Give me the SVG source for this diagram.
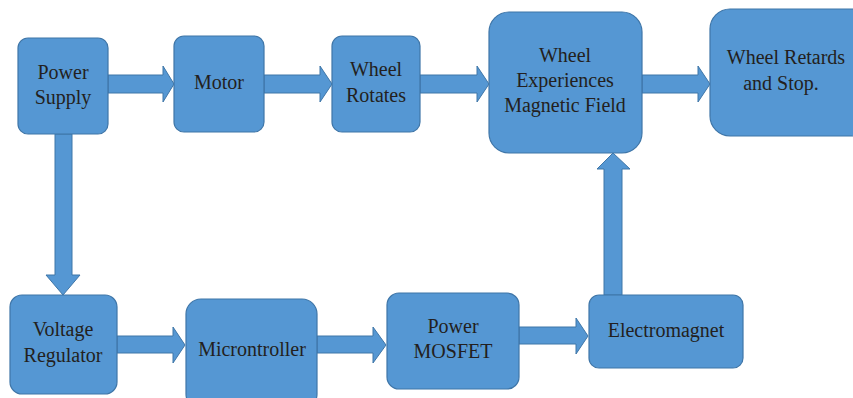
<svg xmlns="http://www.w3.org/2000/svg" width="853" height="398" viewBox="0 0 853 398">
<style>
.box{fill:#5597d3;stroke:#3f76a8;stroke-width:1.2}
.arr{fill:#5597d3;stroke:#3f76a8;stroke-width:1}
text{font-family:"Liberation Serif","Times New Roman",serif;font-size:20px;fill:#231f20;text-anchor:middle}
</style>
<rect width="853" height="398" fill="#fff"/>
<g id="connectors">
<polygon class="arr" points="108,75 163,75 163,66 174,84 163,102 163,93 108,93"/>
<polygon class="arr" points="264,75 320,75 320,66 332,84 320,102 320,93 264,93"/>
<polygon class="arr" points="420,75 477,75 477,66 489,84 477,102 477,93 420,93"/>
<polygon class="arr" points="642,75 698,75 698,66 710,84 698,102 698,93 642,93"/>
<polygon class="arr" points="55,134 72,134 72,275 80,275 63,295 46,275 55,275"/>
<polygon class="arr" points="117,336 173,336 173,327 185,345 173,363 173,353 117,353"/>
<polygon class="arr" points="317,336 373,336 373,327 386,345 373,363 373,353 317,353"/>
<polygon class="arr" points="519,327 576,327 576,318 588,336 576,354 576,344 519,344"/>
<polygon class="arr" points="604,295 604,169 597,169 613,153 630,169 622,169 622,295"/>
</g>
<g id="power-supply">
<rect class="box" x="18" y="38" width="90" height="96" rx="10"/>
<text x="63" y="79">Power</text>
<text x="63" y="104">Supply</text>
</g>
<g id="motor">
<rect class="box" x="174" y="36" width="90" height="96" rx="10"/>
<text x="219" y="89">Motor</text>
</g>
<g id="wheel-rotates">
<rect class="box" x="332" y="36" width="88" height="96" rx="10"/>
<text x="376" y="76">Wheel</text>
<text x="376" y="102">Rotates</text>
</g>
<g id="wheel-magnetic">
<rect class="box" x="489" y="12" width="153" height="141" rx="20"/>
<text x="565" y="62">Wheel</text>
<text x="565" y="87">Experiences</text>
<text x="565" y="112">Magnetic Field</text>
</g>
<g id="wheel-retards">
<rect class="box" x="710" y="9" width="160" height="127" rx="20"/>
<text x="786" y="64">Wheel Retards</text>
<text x="781" y="90">and Stop.</text>
</g>
<g id="voltage-regulator">
<rect class="box" x="10" y="295" width="107" height="99" rx="12"/>
<text x="63" y="336">Voltage</text>
<text x="63" y="362">Regulator</text>
</g>
<g id="microcontroller">
<rect class="box" x="186" y="299" width="131" height="110" rx="15"/>
<text x="252" y="356">Microntroller</text>
</g>
<g id="power-mosfet">
<rect class="box" x="387" y="293" width="132" height="96" rx="12"/>
<text x="453" y="333">Power</text>
<text x="453" y="358">MOSFET</text>
</g>
<g id="electromagnet">
<rect class="box" x="589" y="295" width="154" height="73" rx="10"/>
<text x="666" y="337">Electromagnet</text>
</g>
</svg>
